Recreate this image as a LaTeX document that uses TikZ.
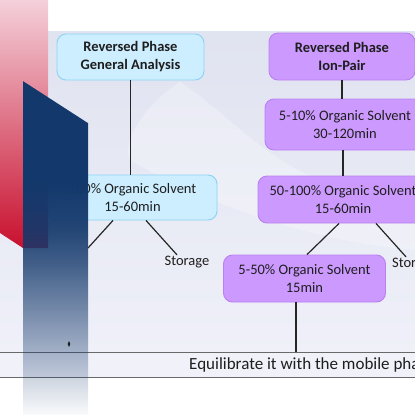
\documentclass[tikz,border=0pt]{standalone}
\usepackage{fontspec}
\setmainfont{Carlito}
\usetikzlibrary{fadings}
\definecolor{panelbg}{RGB}{224,227,240}
\definecolor{panelbgl}{RGB}{240,241,249}
\definecolor{cyanfill}{RGB}{204,238,255}
\definecolor{cyanline}{RGB}{140,210,245}
\definecolor{violfill}{RGB}{204,153,255}
\definecolor{violline}{RGB}{186,128,240}
\definecolor{barpink}{RGB}{244,208,218}
\definecolor{barmid}{RGB}{212,50,84}
\definecolor{barred}{RGB}{200,16,46}
\definecolor{navy}{RGB}{19,56,107}
\definecolor{bandgray}{RGB}{105,105,105}
\definecolor{inkgray}{RGB}{30,30,30}
\pgfdeclareverticalshading{colshade}{100bp}{color(0bp)=(black!98); color(25bp)=(black!98); color(34.7bp)=(black!65); color(42.2bp)=(black!40); color(48.2bp)=(black!20); color(52.7bp)=(black!8); color(57.2bp)=(black!3); color(60.2bp)=(black!0); color(100bp)=(black!0)}
\pgfdeclarefading{columnfade}{\pgfuseshading{colshade}}
\tikzset{
  txt/.style={font=\fontsize{14.5}{17.5}\selectfont, text=inkgray, align=center},
  head/.style={font=\fontsize{14.5}{18}\selectfont\bfseries},
  bluebox/.style={txt, draw=cyanline, fill=cyanfill, line width=0.9pt, rounded corners=9pt, inner sep=0pt},
  violbox/.style={txt, draw=violline, fill=violfill, line width=0.9pt, rounded corners=9pt, inner sep=0pt},
  link/.style={line width=1.2pt, black!85},
}
\begin{document}
\begin{tikzpicture}[x=1pt,y=-1pt]
\useasboundingbox (0,0) rectangle (415,415);
\clip (0,0) rectangle (415,415);
% backdrop
\shade[top color=panelbg, bottom color=panelbgl] (0,31) rectangle (415,377);
\fill[white, opacity=0.28] (180,82) .. controls (240,120) and (280,190) .. (415,205) -- (415,250) .. controls (300,240) and (200,200) .. (130,160) .. controls (120,140) and (150,100) .. (180,82) -- cycle;
\shade[top color=barpink, middle color=barmid, bottom color=barred] (0,0) -- (48,0) -- (48,248) -- (23,248) -- (0,233) -- cycle;

% general analysis
\node[bluebox, head, minimum width=147pt, minimum height=46pt] (rpga) at (130.5,57) {Reversed Phase\\General Analysis};
\node[bluebox, minimum width=169pt, minimum height=45pt] (org100) at (132.5,197.5) {100\% Organic Solvent\\15-60min};
\node[txt, inner sep=1pt] (storA) at (187,262) {Storage};
\coordinate (blueedge) at (88,248);

% ion-pair
\node[violbox, head, minimum width=146pt, minimum height=47pt] (rpip) at (342,56.5) {Reversed Phase\\Ion-Pair};
\node[violbox, minimum width=160pt, minimum height=51pt] (org510) at (345,124.5) {5-10\% Organic Solvent\\30-120min};
\node[violbox, minimum width=170pt, minimum height=47pt] (org50100) at (343,199.5) {50-100\% Organic Solvent\\15-60min};
\node[violbox, minimum width=162pt, minimum height=47pt] (org550) at (304.5,278.5) {5-50\% Organic Solvent\\15min};
\node[txt, inner sep=1pt, anchor=west] (storB) at (391,264) {Storage};

% equilibrate band
\node[draw=bandgray, fill=panelbgl, line width=1pt, minimum width=440pt, minimum height=25pt, inner sep=0pt, anchor=west] (equil) at (-10,364.5) {};
\node[txt, font=\fontsize{17}{20}\selectfont, inner sep=0pt, anchor=west] (equiltxt) at (189,364.5) {Equilibrate it with the mobile phase};

\draw[link] (rpga.south) -- (rpga.south |- org100.north);
\draw[link] ([xshift=-19.5pt]org100.south) -- (blueedge);
\draw[link] ([xshift=13.5pt]org100.south) -- ([xshift=-10pt]storA.north);
\draw[link] (rpip.south) -- (rpip.south |- org510.north);
\draw[link] ([xshift=-2pt]org510.south) -- ([xshift=-2pt]org510.south |- org50100.north);
\draw[link] ([xshift=-4pt]org50100.south) -- ([xshift=2.5pt]org550.north);
\draw[link] ([xshift=33pt]org50100.south) -- ([xshift=15pt]storB.north west);
\draw[link] ([xshift=-8.5pt]org550.south) -- ([xshift=-8.5pt]org550.south |- equil.north);

% blue column
\fill[navy, path fading=columnfade, fit fading=true] (23,81) -- (88,123) -- (88,415) -- (23,415) -- cycle;
\fill[inkgray] (69,341) -- (70.3,344) -- (69,347) -- (67.7,344) -- cycle;
\end{tikzpicture}
\end{document}
